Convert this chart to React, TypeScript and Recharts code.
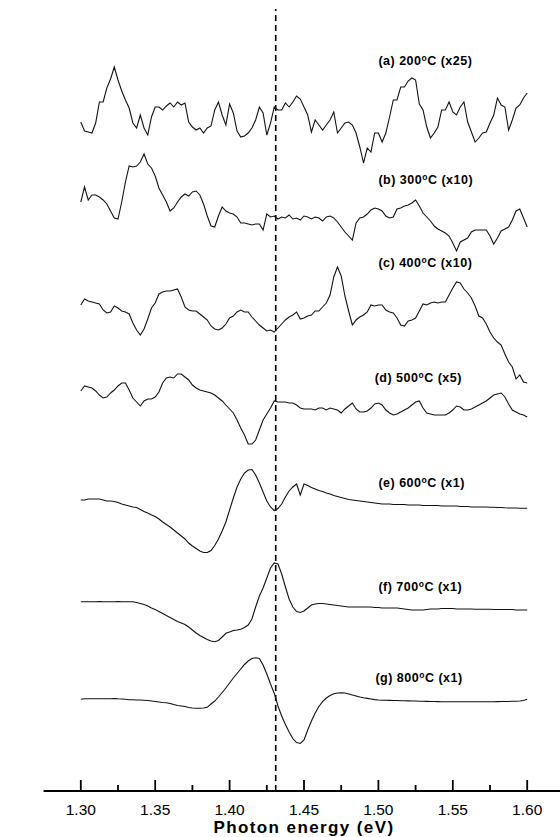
import { LineChart, Line, XAxis, YAxis, ReferenceLine, ReferenceDot, Label } from 'recharts';

const FONT = '"Liberation Sans", Arial, Helvetica, sans-serif';

// photon energy sampling grid (eV), 2.5 meV step from 1.30 to 1.60
const energies = Array.from({ length: 121 }, (_, i) => Number((1.3 + i * 0.0025).toFixed(4)));

// ΔR/R traces, relative to each trace's own baseline (a.u.)
const curveA = [
  -2, -11, -12, -13, -3, 18, 18, 32, 41, 53,
  40, 29, 20, 12, -3, -8, 5, -8, -15, 3,
  13, 13, 10, 14, 17, 13, 18, 15, 17, -2,
  -7, -10, -8, -13, -8, -6, 10, 18, 5, -5,
  16, 7, -11, -17, -16, -13, -8, 0, 13, 7,
  -15, -3, 13, 10, 10, 17, 13, 18, 24, 21,
  13, 5, -12, 0, -5, -10, -5, 0, 8, -13,
  -8, -3, -2, -5, -13, -27, -43, -28, -32, -13,
  -13, -22, -13, 3, 20, 20, 33, 33, 39, 42,
  40, 16, 10, -7, -18, -13, -7, 10, 10, 18,
  8, 5, 13, 18, -2, -12, -22, -18, -13, -12,
  -3, 5, 22, 15, 13, -10, 0, 12, 15, 22,
  27,
];
const curveB = [
  13, 28, 15, 20, 20, 18, 15, 11, 4, -3,
  -4, 13, 33, 49, 48, 49, 53, 61, 51, 47,
  39, 27, 20, 13, 4, 7, 13, 18, 21, 19,
  23, 24, 20, 11, -1, -11, -12, -1, 8, 4,
  2, 1, -2, -8, -8, -9, -10, -9, -9, -15,
  1, -2, -1, -4, -2, -3, 0, -4, -3, -5,
  -1, -2, -4, -2, -3, -6, -2, -1, -3, -7,
  -12, -17, -21, -25, -8, -3, -2, 1, 5, 7,
  6, 4, -1, -3, -2, 6, 7, 9, 10, 12,
  15, 9, 2, -2, -6, -11, -14, -16, -18, -21,
  -28, -36, -27, -25, -23, -17, -15, -15, -15, -15,
  -21, -29, -23, -16, -14, -12, -5, 4, 6, -3,
  -12,
];
const curveC = [
  5, 11, 9, 8, 7, 6, 0, -3, -2, 4,
  2, -1, -2, -4, -13, -20, -25, -19, -9, 2,
  7, 16, 18, 19, 19, 20, 21, 13, 3, 0,
  -1, -1, -4, -7, -10, -16, -19, -20, -18, -14,
  -8, -6, -2, 0, -2, -2, -7, -11, -15, -18,
  -21, -20, -22, -18, -14, -10, -7, -5, -2, -9,
  -8, -6, -5, -1, -1, 3, 7, 15, 33, 43,
  34, 14, -1, -15, -10, -7, -5, -2, 5, 4,
  5, 5, 0, -2, -3, -8, -15, -16, -11, -10,
  -8, -1, 6, 5, 7, 8, 7, 8, 8, 15,
  22, 28, 27, 21, 17, 12, 4, -6, -8, -14,
  -22, -28, -32, -35, -44, -52, -57, -69, -65, -72,
  -73,
];
const curveD = [
  9, 14, 13, 12, 9, 5, 2, 3, 7, 10,
  14, 17, 17, 10, 2, -2, -6, -1, 1, 1,
  3, 8, 17, 22, 23, 22, 26, 26, 23, 20,
  15, 12, 10, 9, 8, 7, 5, 2, -1, -5,
  -9, -13, -20, -28, -35, -44, -44, -40, -30, -20,
  -14, -8, -1, -2, -2, -2, -3, -3, -5, -8,
  -9, -9, -9, -10, -8, -8, -10, -8, -9, -10,
  -13, -9, -6, -3, -9, -12, -12, -11, -8, -4,
  -3, -5, -10, -13, -15, -14, -12, -10, -8, -5,
  -2, -1, -8, -13, -14, -15, -15, -15, -15, -13,
  -10, -6, -7, -10, -10, -9, -7, -5, -3, -1,
  2, 5, 6, 7, 3, -4, -10, -12, -14, -15,
  -17,
];
const curveE = [
  5, 5, 6, 6, 6, 6, 5, 4, 4, 3.5,
  2.5, 1, 0, -1, -2, -2.5, -4.5, -6.5, -8, -10,
  -11.5, -14, -17, -19.5, -22, -25, -28, -31, -34, -38,
  -41, -43.5, -46, -47.5, -47.5, -45.5, -40.5, -34, -26, -17,
  -5, 7, 18, 26, 32, 35, 35.5, 30, 22, 13,
  4, -2, -5.5, -3.5, 1, 8, 14, 18, 21, 10,
  21, 19.5, 17.5, 16, 14.5, 13.5, 12, 11, 9.5, 8.5,
  7.5, 6.5, 5.5, 5, 4.5, 4, 3.5, 3, 2.5, 2,
  1.5, 1, 1, 1, 0.5, 0.5, 0.5, 0.5, 0, 0,
  0, 0, -0.5, -0.5, -0.5, -0.5, -0.5, -1, -1, -1,
  -1, -1, -1.5, -1.5, -1.5, -2, -2, -2, -2, -2,
  -2.3, -2.3, -2.5, -2.5, -2.8, -3, -3, -3, -3.2, -3.2,
  -3.3,
];
const curveF = [
  6.3, 6.3, 6.3, 6.3, 6.3, 6.5, 6.3, 6.3, 6.3, 6.3,
  6.5, 6.3, 6.3, 6.3, 6.3, 5.5, 4.5, 3.5, 2, 0,
  -1.5, -3.5, -5.5, -7.5, -9.5, -11.5, -13.5, -15, -16.5, -19,
  -22, -25, -27.5, -29.5, -31.5, -33, -33.7, -32.5, -29, -25.3,
  -24, -22.5, -22, -21.3, -19.5, -17, -11, 1, 12, 20,
  30, 40, 45, 44, 34, 21, 9, 1, -3.5, -4.5,
  -3, 0, 3, 4, 4.5, 4.5, 4, 3.5, 3, 2.5,
  2, 1.5, 1, 1, 1, 1, 1, 1, 1, 0.5,
  0.5, 0, 0, 0, 0, 0, -0.5, -1, -1.5, -2,
  -2, -2, -2, -1.5, -1, -1, -1, -0.5, -0.5, -0.5,
  -0.5, -1, -1, -1, -1, -1, -1.3, -1.3, -1.3, -1.3,
  -1.3, -1.5, -1.5, -1.5, -1.5, -1.5, -1.5, -2, -2, -2,
  -2,
];
const curveG = [
  0.7, 1.3, 1.3, 1.3, 1.3, 1.3, 1.3, 1.3, 1.3, 1.5,
  1.2, 1, 0.7, 0.3, 0.2, 0, 0, -0.2, -0.5, -1,
  -1.5, -2, -2.5, -2.8, -3.5, -4.5, -5.5, -6, -6.5, -7.5,
  -8, -8.3, -8.3, -8, -7.3, -4, -1, 3, 7.5, 12,
  17, 22, 26.5, 31, 35.5, 39, 41.5, 42.3, 41.5, 35,
  26, 16, 6.7, -6, -16, -24.5, -32, -38.5, -42.5, -43.5,
  -40, -30, -21, -13, -6.5, -1.7, 2, 4.5, 6.2, 7,
  7.3, 7, 6, 5, 4, 3, 2.2, 1.6, 1, 0.4,
  0, -0.2, -0.3, -0.4, -0.5, -0.5, -0.7, -0.8, -0.9, -1,
  -1, -1.2, -1.3, -1.4, -1.5, -1.5, -1.6, -1.7, -1.7, -1.7,
  -1.7, -1.7, -1.7, -1.7, -1.7, -1.7, -1.7, -1.7, -1.7, -1.7,
  -1.7, -1.7, -1.6, -1.5, -1.5, -1.5, -1.3, -1.2, -1, -0.5,
  0.7,
];

// vertical stacking offsets (a.u.) for the traces a..g
const offsets = { a: 671, b: 576, c: 481, d: 391, e: 286, f: 183, g: 91 };

const curveLabels = [
  { key: 'a', pre: '(a) 200', post: 'C (x25)' },
  { key: 'b', pre: '(b) 300', post: 'C (x10)' },
  { key: 'c', pre: '(c) 400', post: 'C (x10)' },
  { key: 'd', pre: '(d) 500', post: 'C (x5)' },
  { key: 'e', pre: '(e) 600', post: 'C (x1)' },
  { key: 'f', pre: '(f) 700', post: 'C (x1)' },
  { key: 'g', pre: '(g) 800', post: 'C (x1)' },
];

const xTicks = [1.3, 1.325, 1.35, 1.375, 1.4, 1.425, 1.45, 1.475, 1.5, 1.525, 1.55, 1.575, 1.6];
const markerEnergy = 1.431;

const rows = energies.map((e, i) => ({
  e,
  a: offsets.a + curveA[i],
  b: offsets.b + curveB[i],
  c: offsets.c + curveC[i],
  d: offsets.d + curveD[i],
  e6: offsets.e + curveE[i],
  f: offsets.f + curveF[i],
  g: offsets.g + curveG[i],
}));

// where the text tags sit (eV, a.u.)
const labelAnchors: Record<string, [number, number]> = {
  a: [1.5, 730],
  b: [1.5, 611],
  c: [1.5, 528],
  d: [1.4975, 413],
  e: [1.5, 308],
  f: [1.5, 204],
  g: [1.498, 113],
};

const EnergyTick = ({ x, y, payload }: any) => {
  const major = Math.round(payload.value * 1000) % 50 === 0;
  return (
    <g>
      <line x1={x} x2={x} y1={y} y2={y - (major ? 11 : 6)} stroke="#000" strokeWidth={1.8} />
      {major && (
        <text x={x} y={y + 23.5} textAnchor="middle" fontSize={15.5} fontFamily={FONT} fill="#000">
          {payload.value.toFixed(2)}
        </text>
      )}
    </g>
  );
};

const CurveTag = ({ viewBox, pre, post }: any) => (
  <text
    x={viewBox.x}
    y={viewBox.y}
    dy="0.35em"
    fontFamily={FONT}
    fontWeight="bold"
    fontSize={12.5}
    letterSpacing={0.5}
    fill="#000"
  >
    {pre}
    <tspan dy={-4.5} fontSize={8.5}>o</tspan>
    <tspan dy={4.5}>{post}</tspan>
  </text>
);

const XTitle = ({ viewBox }: any) => (
  <text
    x={viewBox.x + viewBox.width / 2}
    y={viewBox.y + 42.2}
    textAnchor="middle"
    fontFamily={FONT}
    fontWeight="bold"
    fontSize={17}
    letterSpacing={1.4}
    fill="#000"
  >
    Photon energy (eV)
  </text>
);

const YTitle = ({ viewBox }: any) => {
  const cx = viewBox.x - 17.5;
  const cy = viewBox.y + viewBox.height / 2 - 19;
  return (
    <text
      x={cx}
      y={cy}
      transform={`rotate(-90, ${cx}, ${cy})`}
      textAnchor="middle"
      dominantBaseline="central"
      fontFamily={FONT}
      fontWeight="bold"
      fontSize={17}
      letterSpacing={1.8}
      fill="#000"
    >
      ΔR/R (a.u.)
    </text>
  );
};

const seriesKeys = ['a', 'b', 'c', 'd', 'e6', 'f', 'g'];

export default function App() {
  return (
    <div style={{ position: 'absolute', left: 0, top: 0, width: 560, height: 837, overflow: 'hidden', background: '#fff' }}>
      <LineChart width={570} height={837} data={rows} margin={{ top: 9, right: 5.6, bottom: 0, left: 43.6 }}>
        <XAxis
          dataKey="e"
          type="number"
          domain={[1.275, 1.625]}
          ticks={xTicks}
          interval={0}
          tick={<EnergyTick />}
          tickLine={false}
          tickSize={0}
          tickMargin={0}
          height={46}
          axisLine={{ stroke: '#000', strokeWidth: 2 }}
          allowDataOverflow
        >
          <Label content={<XTitle />} />
        </XAxis>
        <XAxis
          xAxisId="top"
          orientation="top"
          type="number"
          domain={[1.275, 1.625]}
          tick={false}
          tickLine={false}
          height={0}
          axisLine={{ stroke: '#000', strokeWidth: 2 }}
        />
        <YAxis
          type="number"
          domain={[0, 782]}
          width={0}
          tick={false}
          tickLine={false}
          axisLine={{ stroke: '#000', strokeWidth: 1.5 }}
          allowDataOverflow
        >
          <Label content={<YTitle />} />
        </YAxis>
        <ReferenceLine x={markerEnergy} stroke="#000" strokeWidth={1.6} strokeDasharray="6 4" />
        {seriesKeys.map((k) => (
          <Line
            key={k}
            dataKey={k}
            type="linear"
            stroke="#111"
            strokeWidth={1.1}
            dot={false}
            activeDot={false}
            isAnimationActive={false}
          />
        ))}
        {curveLabels.map((l) => (
          <ReferenceDot
            key={l.key}
            x={labelAnchors[l.key][0]}
            y={labelAnchors[l.key][1]}
            r={0}
            fill="none"
            stroke="none"
            ifOverflow="visible"
            label={<CurveTag pre={l.pre} post={l.post} />}
          />
        ))}
      </LineChart>
    </div>
  );
}
